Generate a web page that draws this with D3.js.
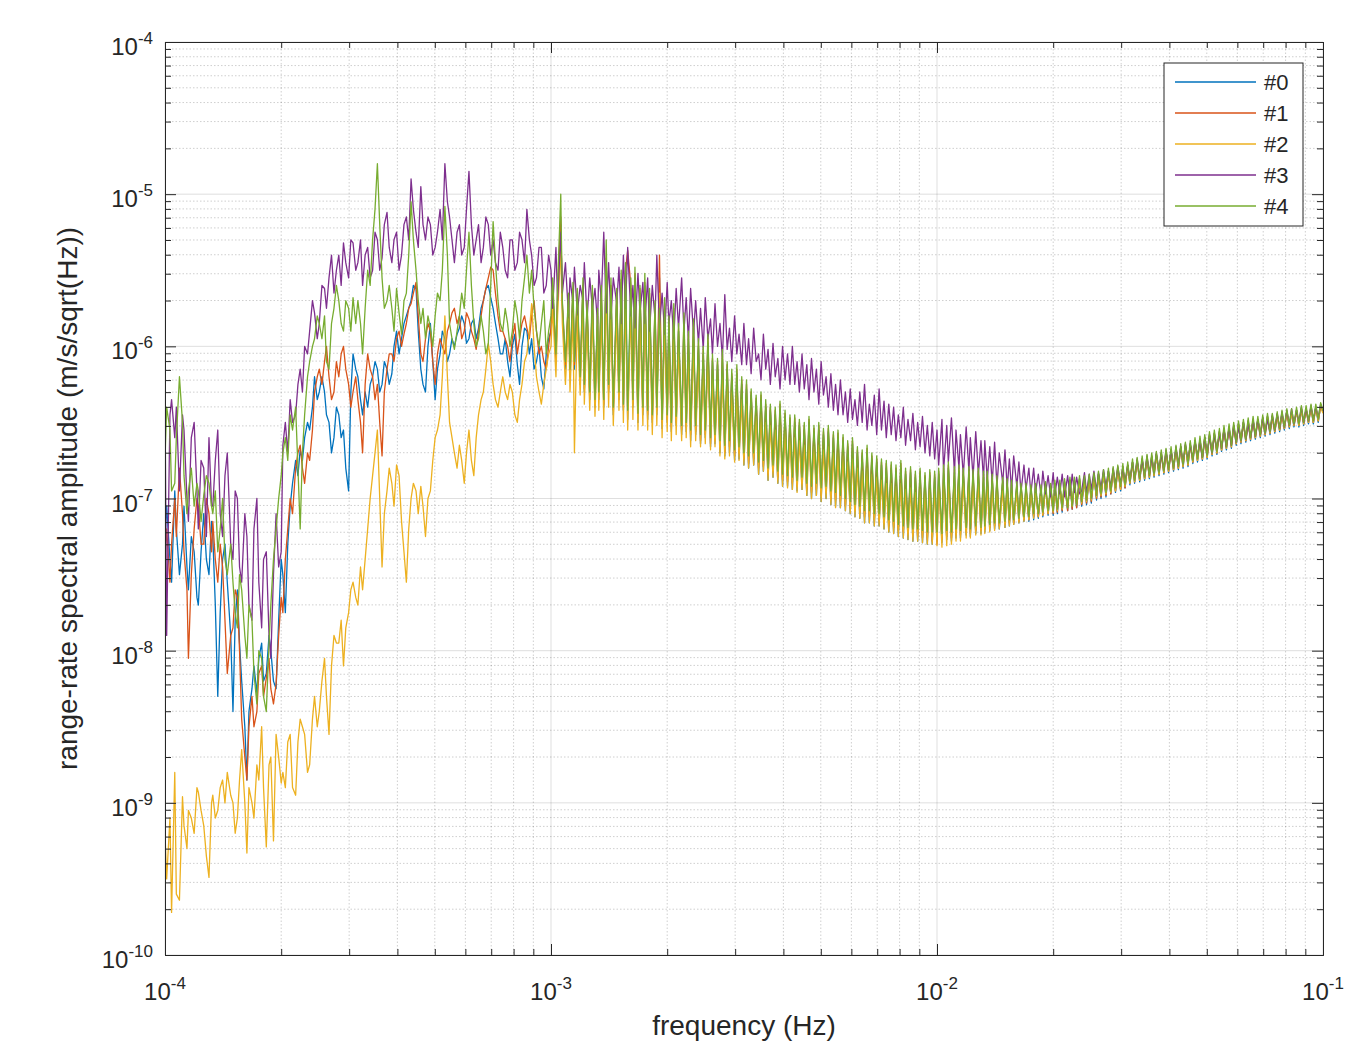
<!DOCTYPE html>
<html>
<head>
<meta charset="utf-8">
<script src="https://cdn.jsdelivr.net/npm/d3@7"></script>
<style>
  body { margin: 0; background: #fff; }
  text { font-family: "Liberation Sans", Arial, Helvetica, sans-serif; fill: #262626; }
  .tk path, .tk line { stroke: #262626; stroke-width: 1; }
</style>
</head>
<body>
<div id="graph"></div>
<script>
// frequency bins in mHz, shared by every series
var freq_mHz = [
  0.100,0.101,0.103,0.104,0.106,0.107,0.109,0.111,0.112,0.114,0.115,0.117,0.119,0.121,0.122,0.124,0.126,0.128,0.130,0.132,
  0.133,0.135,0.137,0.139,0.141,0.143,0.145,0.148,0.150,0.152,0.154,0.156,0.158,0.161,0.163,0.165,0.168,0.170,0.173,0.175,
  0.178,0.180,0.183,0.186,0.188,0.191,0.194,0.197,0.200,0.202,0.205,0.208,0.211,0.214,0.218,0.221,0.224,0.227,0.230,0.234,
  0.237,0.241,0.244,0.248,0.251,0.255,0.259,0.262,0.266,0.270,0.274,0.278,0.282,0.286,0.290,0.294,0.299,0.303,0.307,0.312,
  0.316,0.321,0.325,0.330,0.335,0.340,0.345,0.350,0.355,0.360,0.365,0.370,0.376,0.381,0.387,0.392,0.398,0.404,0.410,0.416,
  0.422,0.428,0.434,0.440,0.447,0.453,0.460,0.466,0.473,0.480,0.487,0.494,0.501,0.508,0.516,0.523,0.531,0.539,0.546,0.554,
  0.562,0.571,0.579,0.587,0.596,0.604,0.613,0.622,0.631,0.640,0.649,0.659,0.668,0.678,0.688,0.698,0.708,0.718,0.729,0.739,
  0.750,0.761,0.772,0.783,0.794,0.806,0.818,0.829,0.841,0.854,0.866,0.879,0.891,0.904,0.917,0.931,0.944,0.958,0.972,0.986,
  1.00,1.01,1.03,1.04,1.06,1.07,1.09,1.11,1.12,1.14,1.15,1.17,1.19,1.21,1.22,1.24,1.26,1.28,1.30,1.32,
  1.33,1.35,1.37,1.39,1.41,1.43,1.45,1.48,1.50,1.52,1.54,1.56,1.58,1.61,1.63,1.65,1.68,1.70,1.73,1.75,
  1.78,1.80,1.83,1.86,1.88,1.91,1.94,1.97,2.00,2.02,2.05,2.08,2.11,2.14,2.18,2.21,2.24,2.27,2.30,2.34,
  2.37,2.41,2.44,2.48,2.51,2.55,2.59,2.62,2.66,2.70,2.74,2.78,2.82,2.86,2.90,2.94,2.99,3.03,3.07,3.12,
  3.16,3.21,3.25,3.30,3.35,3.40,3.45,3.50,3.55,3.60,3.65,3.70,3.76,3.81,3.87,3.92,3.98,4.04,4.10,4.16,
  4.22,4.28,4.34,4.40,4.47,4.53,4.60,4.66,4.73,4.80,4.87,4.94,5.01,5.08,5.16,5.23,5.31,5.39,5.46,5.54,
  5.62,5.71,5.79,5.87,5.96,6.04,6.13,6.22,6.31,6.40,6.49,6.59,6.68,6.78,6.88,6.98,7.08,7.18,7.29,7.39,
  7.50,7.61,7.72,7.83,7.94,8.06,8.18,8.29,8.41,8.54,8.66,8.79,8.91,9.04,9.17,9.31,9.44,9.58,9.72,9.86,
  10.0,10.1,10.3,10.4,10.6,10.7,10.9,11.1,11.2,11.4,11.5,11.7,11.9,12.1,12.2,12.4,12.6,12.8,13.0,13.2,
  13.3,13.5,13.7,13.9,14.1,14.3,14.5,14.8,15.0,15.2,15.4,15.6,15.8,16.1,16.3,16.5,16.8,17.0,17.3,17.5,
  17.8,18.0,18.3,18.6,18.8,19.1,19.4,19.7,20.0,20.2,20.5,20.8,21.1,21.4,21.8,22.1,22.4,22.7,23.0,23.4,
  23.7,24.1,24.4,24.8,25.1,25.5,25.9,26.2,26.6,27.0,27.4,27.8,28.2,28.6,29.0,29.4,29.9,30.3,30.7,31.2,
  31.6,32.1,32.5,33.0,33.5,34.0,34.5,35.0,35.5,36.0,36.5,37.0,37.6,38.1,38.7,39.2,39.8,40.4,41.0,41.6,
  42.2,42.8,43.4,44.0,44.7,45.3,46.0,46.6,47.3,48.0,48.7,49.4,50.1,50.8,51.6,52.3,53.1,53.9,54.6,55.4,
  56.2,57.1,57.9,58.7,59.6,60.4,61.3,62.2,63.1,64.0,64.9,65.9,66.8,67.8,68.8,69.8,70.8,71.8,72.9,73.9,
  75.0,76.1,77.2,78.3,79.4,80.6,81.8,82.9,84.1,85.4,86.6,87.9,89.1,90.4,91.7,93.1,94.4,95.8,97.2,98.6,
  100
];

// amplitudes as log10(m/s/sqrt(Hz))
var amp0 = [
  -7.25,-7.05,-7.40,-7.55,-6.95,-7.20,-7.50,-7.30,-7.05,-7.45,-7.60,-7.25,-7.35,-7.65,-7.70,-7.35,-7.10,-7.40,-7.50,-7.15,
  -7.25,-7.70,-8.30,-7.75,-7.40,-7.30,-7.55,-7.90,-8.40,-7.80,-7.60,-7.95,-8.20,-8.50,-8.85,-8.40,-8.25,-8.10,-8.28,-8.05,
  -7.95,-8.20,-8.15,-7.90,-8.00,-8.20,-8.25,-7.80,-7.40,-7.50,-7.75,-7.30,-7.05,-6.90,-6.75,-6.85,-6.68,-6.75,-6.60,-6.50,
  -6.55,-6.40,-6.20,-6.35,-6.30,-6.20,-6.30,-6.45,-6.50,-6.70,-6.60,-6.40,-6.45,-6.60,-6.55,-6.80,-6.95,-6.30,-6.05,-6.15,
  -6.20,-6.35,-6.45,-6.30,-6.40,-6.25,-6.20,-6.10,-6.15,-6.30,-6.25,-6.10,-6.15,-6.25,-6.18,-6.00,-5.90,-6.05,-5.95,-5.85,
  -5.80,-5.75,-5.70,-5.60,-5.62,-5.90,-6.15,-6.25,-6.30,-6.00,-5.85,-6.10,-6.35,-6.15,-6.05,-5.90,-5.95,-6.10,-6.05,-5.95,
  -6.00,-5.92,-5.88,-5.80,-5.85,-5.98,-5.95,-5.85,-5.82,-5.95,-5.88,-5.75,-5.70,-5.62,-5.60,-5.68,-5.75,-5.85,-5.95,-6.05,
  -6.05,-5.95,-6.10,-6.20,-6.00,-5.92,-6.12,-6.25,-6.00,-5.88,-5.90,-6.05,-5.95,-6.15,-6.10,-6.00,-6.20,-6.28,-6.05,-5.95,
  -5.90,-5.60,-6.10,-5.68,-5.20,-5.75,-6.15,-5.70,-6.20,-5.65,-6.15,-5.70,-6.25,-5.62,-6.30,-5.75,-6.35,-5.68,-6.40,-5.80,
  -6.35,-5.65,-6.40,-5.45,-6.30,-5.62,-6.45,-5.68,-6.35,-5.58,-6.42,-5.55,-6.48,-5.62,-6.40,-5.55,-6.50,-5.65,-6.45,-5.60,
  -6.48,-5.68,-6.50,-5.75,-6.45,-5.55,-6.54,-5.75,-6.50,-5.85,-6.56,-5.78,-6.52,-5.90,-6.58,-5.84,-6.56,-5.95,-6.62,-5.88,
  -6.58,-6.00,-6.64,-6.05,-6.60,-5.98,-6.66,-6.10,-6.64,-6.12,-6.70,-6.08,-6.72,-6.15,-6.70,-6.20,-6.75,-6.18,-6.74,-6.25,
  -6.78,-6.28,-6.80,-6.32,-6.78,-6.36,-6.84,-6.35,-6.82,-6.40,-6.88,-6.42,-6.86,-6.45,-6.90,-6.42,-6.92,-6.46,-6.92,-6.50,
  -6.94,-6.50,-6.95,-6.52,-6.94,-6.55,-6.98,-6.50,-7.00,-6.56,-6.98,-6.55,-7.02,-6.58,-7.00,-6.56,-7.04,-6.60,-7.05,-6.60,
  -7.06,-6.62,-7.08,-6.66,-7.10,-6.64,-7.12,-6.70,-7.13,-6.72,-7.16,-6.70,-7.16,-6.74,-7.18,-6.76,-7.18,-6.78,-7.20,-6.80,
  -7.22,-6.80,-7.23,-6.82,-7.25,-6.80,-7.26,-6.84,-7.27,-6.83,-7.28,-6.86,-7.28,-6.84,-7.29,-6.86,-7.30,-6.85,-7.30,-6.86,
  -7.28,-6.84,-7.29,-6.82,-7.27,-6.80,-7.28,-6.83,-7.26,-6.82,-7.26,-6.84,-7.24,-6.83,-7.25,-6.85,-7.23,-6.84,-7.23,-6.86,
  -7.22,-6.86,-7.21,-6.87,-7.20,-6.88,-7.20,-6.89,-7.19,-6.90,-7.18,-6.91,-7.17,-6.92,-7.16,-6.92,-7.15,-6.93,-7.15,-6.93,
  -7.14,-6.92,-7.13,-6.93,-7.12,-6.91,-7.11,-6.92,-7.11,-6.90,-7.10,-6.90,-7.09,-6.89,-7.08,-6.88,-7.07,-6.88,-7.06,-6.87,
  -7.05,-6.87,-7.04,-6.86,-7.03,-6.85,-7.01,-6.84,-7.00,-6.83,-6.99,-6.82,-6.97,-6.81,-6.96,-6.80,-6.95,-6.79,-6.93,-6.78,
  -6.91,-6.76,-6.90,-6.75,-6.89,-6.74,-6.88,-6.73,-6.87,-6.72,-6.86,-6.71,-6.85,-6.70,-6.84,-6.69,-6.83,-6.68,-6.82,-6.67,
  -6.81,-6.66,-6.80,-6.65,-6.79,-6.64,-6.77,-6.62,-6.76,-6.61,-6.75,-6.60,-6.74,-6.58,-6.72,-6.57,-6.71,-6.56,-6.69,-6.54,
  -6.68,-6.53,-6.67,-6.52,-6.65,-6.51,-6.64,-6.50,-6.63,-6.49,-6.62,-6.48,-6.61,-6.48,-6.60,-6.47,-6.59,-6.46,-6.58,-6.46,
  -6.57,-6.45,-6.56,-6.44,-6.55,-6.43,-6.54,-6.43,-6.53,-6.42,-6.53,-6.41,-6.52,-6.41,-6.51,-6.40,-6.51,-6.40,-6.50,-6.39,
  -6.43
];
var amp1 = [
  -7.40,-7.20,-7.55,-7.30,-7.00,-7.25,-6.80,-7.10,-7.35,-7.60,-8.05,-7.50,-7.20,-7.00,-7.05,-7.30,-7.30,-7.00,-7.10,-7.35,
  -7.15,-7.40,-7.55,-7.30,-7.45,-7.80,-8.15,-7.90,-7.85,-7.60,-7.65,-8.00,-8.45,-8.70,-8.85,-8.50,-8.30,-8.50,-8.40,-8.15,
  -8.10,-8.30,-8.18,-8.05,-8.25,-8.35,-8.22,-7.90,-7.65,-7.75,-7.40,-7.20,-7.00,-7.10,-6.80,-6.70,-6.65,-6.80,-6.90,-6.70,
  -6.75,-6.55,-6.30,-6.20,-6.15,-6.25,-6.10,-6.00,-6.20,-6.35,-6.30,-6.10,-6.20,-6.05,-6.00,-6.15,-6.25,-6.40,-6.30,-6.20,
  -6.35,-6.50,-6.70,-6.25,-6.05,-6.15,-6.20,-6.35,-6.25,-6.50,-6.72,-6.30,-6.15,-6.05,-6.05,-6.10,-5.95,-5.90,-6.00,-5.92,
  -5.85,-5.75,-5.72,-5.65,-5.58,-5.80,-6.05,-6.10,-5.95,-5.85,-5.90,-6.10,-6.25,-6.05,-5.95,-6.00,-6.05,-5.90,-5.85,-5.78,
  -5.75,-5.85,-5.80,-5.95,-5.90,-5.78,-5.82,-5.90,-5.95,-6.02,-5.90,-5.80,-5.70,-5.62,-5.55,-5.48,-5.50,-5.65,-5.80,-5.90,
  -5.90,-5.95,-6.00,-6.10,-5.95,-5.85,-6.05,-5.95,-5.85,-5.80,-5.88,-5.95,-5.80,-5.70,-5.90,-6.05,-6.00,-6.10,-6.15,-6.00,
  -5.88,-5.62,-6.08,-5.66,-5.15,-5.72,-6.12,-5.68,-6.18,-5.62,-6.12,-5.66,-6.22,-5.60,-6.28,-5.72,-6.32,-5.65,-6.38,-5.78,
  -6.32,-5.62,-6.38,-5.42,-6.28,-5.60,-6.42,-5.65,-6.32,-5.56,-6.40,-5.50,-5.37,-5.60,-6.38,-5.52,-6.46,-5.62,-6.42,-5.58,
  -6.45,-5.65,-6.48,-5.72,-6.42,-5.40,-6.50,-5.72,-6.48,-5.82,-6.53,-5.75,-6.50,-5.88,-6.55,-5.80,-6.53,-5.92,-6.58,-5.85,
  -6.56,-5.98,-6.62,-6.02,-6.58,-5.95,-6.64,-6.08,-6.62,-6.10,-6.66,-6.05,-6.70,-6.12,-6.66,-6.18,-6.72,-6.15,-6.70,-6.22,
  -6.74,-6.25,-6.77,-6.30,-6.74,-6.34,-6.80,-6.32,-6.79,-6.38,-6.84,-6.40,-6.82,-6.42,-6.86,-6.38,-6.88,-6.44,-6.89,-6.47,
  -6.90,-6.47,-6.92,-6.50,-6.90,-6.52,-6.94,-6.48,-6.96,-6.54,-6.94,-6.52,-6.98,-6.56,-6.96,-6.54,-7.00,-6.58,-7.01,-6.57,
  -7.02,-6.60,-7.05,-6.64,-7.06,-6.62,-7.08,-6.68,-7.09,-6.70,-7.12,-6.67,-7.12,-6.72,-7.14,-6.74,-7.14,-6.76,-7.16,-6.77,
  -7.18,-6.78,-7.19,-6.80,-7.21,-6.77,-7.22,-6.82,-7.23,-6.81,-7.24,-6.84,-7.25,-6.82,-7.26,-6.85,-7.27,-6.83,-7.28,-6.84,
  -7.30,-6.82,-7.27,-6.80,-7.25,-6.78,-7.26,-6.81,-7.24,-6.80,-7.24,-6.82,-7.22,-6.81,-7.23,-6.83,-7.21,-6.82,-7.21,-6.84,
  -7.20,-6.84,-7.19,-6.86,-7.18,-6.87,-7.18,-6.88,-7.17,-6.89,-7.16,-6.90,-7.16,-6.91,-7.15,-6.91,-7.14,-6.92,-7.14,-6.92,
  -7.12,-6.92,-7.12,-6.93,-7.11,-6.91,-7.10,-6.92,-7.10,-6.90,-7.09,-6.90,-7.08,-6.89,-7.08,-6.88,-7.07,-6.88,-7.06,-6.87,
  -7.04,-6.87,-7.03,-6.86,-7.02,-6.85,-7.00,-6.84,-6.99,-6.83,-6.98,-6.82,-6.97,-6.81,-6.95,-6.80,-6.94,-6.79,-6.93,-6.78,
  -6.90,-6.76,-6.89,-6.75,-6.88,-6.74,-6.87,-6.73,-6.86,-6.72,-6.85,-6.71,-6.84,-6.70,-6.83,-6.69,-6.82,-6.68,-6.81,-6.67,
  -6.80,-6.66,-6.79,-6.65,-6.78,-6.64,-6.76,-6.62,-6.75,-6.61,-6.74,-6.60,-6.73,-6.58,-6.71,-6.57,-6.70,-6.56,-6.68,-6.54,
  -6.67,-6.53,-6.66,-6.52,-6.64,-6.51,-6.63,-6.50,-6.62,-6.49,-6.61,-6.48,-6.60,-6.48,-6.59,-6.47,-6.58,-6.46,-6.57,-6.46,
  -6.56,-6.45,-6.55,-6.44,-6.54,-6.43,-6.53,-6.43,-6.52,-6.42,-6.52,-6.41,-6.51,-6.41,-6.50,-6.40,-6.50,-6.40,-6.49,-6.39,
  -6.42
];
var amp2 = [
  -9.20,-9.50,-9.10,-9.72,-8.80,-9.60,-9.64,-8.96,-9.15,-9.30,-9.05,-9.10,-9.20,-8.90,-8.93,-9.05,-9.15,-9.35,-9.49,-9.00,
  -8.95,-9.10,-9.05,-8.90,-8.85,-9.00,-8.80,-8.95,-9.00,-9.20,-9.10,-8.85,-8.65,-9.00,-9.33,-8.90,-9.00,-9.10,-8.75,-8.85,
  -8.50,-8.90,-9.29,-8.75,-8.70,-9.25,-8.55,-8.70,-8.87,-8.80,-8.90,-8.60,-8.55,-8.90,-8.95,-8.60,-8.45,-8.50,-8.55,-8.80,
  -8.75,-8.45,-8.30,-8.50,-8.40,-8.20,-8.05,-8.30,-8.55,-8.10,-7.90,-7.95,-7.95,-7.80,-8.10,-7.85,-7.75,-7.60,-7.55,-7.65,
  -7.70,-7.45,-7.60,-7.40,-7.20,-7.00,-6.85,-6.70,-6.55,-7.00,-7.45,-7.10,-6.95,-6.80,-6.90,-7.05,-6.78,-6.85,-7.15,-7.35,
  -7.55,-7.20,-7.00,-6.90,-6.95,-7.10,-6.92,-7.05,-7.25,-7.00,-6.95,-6.75,-6.60,-6.55,-6.45,-6.20,-5.80,-6.20,-6.50,-6.60,
  -6.70,-6.80,-6.65,-6.75,-6.90,-6.70,-6.55,-6.75,-6.85,-6.60,-6.45,-6.35,-6.30,-6.15,-5.98,-6.10,-6.25,-6.35,-6.40,-6.30,
  -6.20,-6.30,-6.35,-6.25,-6.30,-6.45,-6.50,-6.35,-6.25,-6.10,-6.05,-5.90,-5.72,-6.00,-6.20,-6.30,-6.38,-6.25,-6.15,-6.05,
  -6.00,-5.75,-6.20,-5.80,-5.35,-5.85,-6.25,-5.82,-6.30,-5.78,-6.70,-5.80,-6.32,-5.72,-6.38,-5.85,-6.42,-5.78,-6.46,-5.90,
  -6.42,-5.78,-6.48,-5.58,-6.40,-5.75,-6.52,-5.80,-6.42,-5.70,-6.50,-5.68,-6.55,-5.75,-6.48,-5.66,-6.55,-5.78,-6.52,-5.72,
  -6.55,-5.78,-6.58,-5.85,-6.52,-5.65,-6.60,-5.85,-6.56,-5.95,-6.62,-5.88,-6.58,-6.00,-6.62,-5.95,-6.60,-6.05,-6.66,-5.98,
  -6.62,-6.10,-6.66,-6.15,-6.64,-6.08,-6.68,-6.20,-6.66,-6.22,-6.72,-6.18,-6.74,-6.25,-6.72,-6.30,-6.76,-6.28,-6.75,-6.35,
  -6.78,-6.38,-6.80,-6.42,-6.78,-6.46,-6.84,-6.45,-6.82,-6.50,-6.88,-6.52,-6.86,-6.55,-6.90,-6.52,-6.92,-6.56,-6.93,-6.60,
  -6.94,-6.60,-6.96,-6.62,-6.94,-6.65,-6.98,-6.60,-7.00,-6.66,-6.98,-6.65,-7.02,-6.68,-7.00,-6.66,-7.04,-6.70,-7.06,-6.70,
  -7.06,-6.72,-7.08,-6.76,-7.10,-6.74,-7.12,-6.80,-7.13,-6.82,-7.16,-6.80,-7.16,-6.84,-7.18,-6.86,-7.18,-6.88,-7.20,-6.90,
  -7.22,-6.90,-7.23,-6.92,-7.25,-6.90,-7.26,-6.94,-7.27,-6.93,-7.28,-6.96,-7.28,-6.94,-7.29,-6.95,-7.30,-6.94,-7.30,-6.93,
  -7.31,-6.90,-7.32,-6.88,-7.31,-6.86,-7.30,-6.89,-7.28,-6.88,-7.28,-6.90,-7.26,-6.89,-7.26,-6.91,-7.24,-6.90,-7.24,-6.92,
  -7.23,-6.92,-7.22,-6.93,-7.21,-6.94,-7.20,-6.95,-7.19,-6.95,-7.18,-6.96,-7.17,-6.96,-7.16,-6.96,-7.15,-6.96,-7.14,-6.95,
  -7.13,-6.94,-7.12,-6.94,-7.11,-6.93,-7.10,-6.93,-7.09,-6.92,-7.08,-6.91,-7.07,-6.90,-7.06,-6.89,-7.05,-6.89,-7.04,-6.88,
  -7.03,-6.88,-7.02,-6.87,-7.01,-6.86,-6.99,-6.85,-6.98,-6.84,-6.97,-6.83,-6.96,-6.82,-6.95,-6.81,-6.94,-6.80,-6.92,-6.79,
  -6.90,-6.77,-6.89,-6.76,-6.88,-6.75,-6.87,-6.74,-6.86,-6.73,-6.85,-6.72,-6.84,-6.71,-6.83,-6.70,-6.82,-6.69,-6.81,-6.68,
  -6.80,-6.67,-6.79,-6.66,-6.78,-6.65,-6.76,-6.63,-6.75,-6.62,-6.74,-6.61,-6.73,-6.59,-6.71,-6.58,-6.70,-6.57,-6.68,-6.55,
  -6.67,-6.54,-6.66,-6.53,-6.64,-6.52,-6.63,-6.51,-6.62,-6.50,-6.61,-6.49,-6.60,-6.49,-6.59,-6.48,-6.58,-6.47,-6.57,-6.47,
  -6.56,-6.46,-6.55,-6.45,-6.54,-6.44,-6.53,-6.44,-6.52,-6.43,-6.52,-6.42,-6.51,-6.42,-6.50,-6.41,-6.50,-6.41,-6.49,-6.40,
  -6.44
];
var amp3 = [
  -6.30,-7.90,-6.45,-6.35,-6.60,-6.40,-6.95,-6.45,-6.55,-7.00,-7.15,-6.60,-6.50,-6.95,-7.20,-6.75,-6.80,-7.25,-6.60,-7.05,
  -7.05,-6.75,-6.55,-7.10,-7.25,-6.85,-6.70,-7.30,-7.40,-6.95,-7.00,-7.45,-7.55,-7.10,-7.25,-7.70,-7.80,-7.20,-7.00,-7.55,
  -7.85,-7.40,-7.35,-7.90,-8.05,-7.50,-7.10,-7.45,-7.35,-6.65,-6.50,-6.70,-6.35,-6.50,-6.45,-6.25,-6.15,-6.30,-6.00,-6.05,
  -5.90,-5.70,-5.78,-5.95,-5.85,-5.60,-5.62,-5.75,-5.55,-5.40,-5.65,-5.50,-5.40,-5.60,-5.32,-5.45,-5.55,-5.30,-5.32,-5.50,
  -5.45,-5.30,-5.60,-5.40,-5.35,-5.55,-5.50,-5.25,-5.30,-5.50,-5.42,-5.20,-5.12,-5.35,-5.45,-5.30,-5.25,-5.50,-5.40,-5.20,
  -5.15,-5.30,-4.90,-5.10,-5.25,-5.35,-4.95,-5.20,-5.30,-5.15,-5.20,-5.40,-5.35,-5.25,-5.10,-5.30,-4.80,-5.05,-5.15,-5.30,
  -5.45,-5.25,-5.20,-5.40,-5.35,-5.10,-4.85,-5.20,-5.40,-5.30,-5.20,-5.45,-5.35,-5.15,-5.20,-5.40,-5.30,-5.45,-5.50,-5.25,
  -5.35,-5.50,-5.55,-5.30,-5.30,-5.50,-5.45,-5.25,-5.30,-5.45,-5.10,-5.30,-5.40,-5.60,-5.55,-5.35,-5.35,-5.65,-5.60,-5.40,
  -5.50,-5.75,-5.35,-5.70,-5.25,-5.65,-5.45,-5.80,-5.55,-5.72,-5.48,-5.78,-5.60,-5.70,-5.45,-5.82,-5.55,-5.75,-5.62,-5.85,
  -5.50,-5.70,-5.25,-5.78,-5.45,-5.82,-5.55,-5.72,-5.48,-5.85,-5.40,-5.75,-5.35,-5.80,-5.60,-5.88,-5.52,-5.78,-5.58,-5.85,
  -5.55,-5.90,-5.60,-5.82,-5.40,-5.88,-5.65,-5.92,-5.58,-5.85,-5.70,-5.95,-5.62,-5.88,-5.55,-5.90,-5.68,-5.96,-5.62,-5.92,
  -5.70,-5.98,-5.75,-6.02,-5.68,-5.95,-5.82,-6.05,-5.72,-6.00,-5.85,-6.08,-5.66,-6.02,-5.88,-6.10,-5.80,-6.05,-5.92,-6.12,
  -5.85,-6.12,-5.95,-6.18,-5.88,-6.10,-6.05,-6.22,-5.92,-6.15,-6.02,-6.25,-5.98,-6.20,-6.08,-6.28,-6.00,-6.22,-6.05,-6.25,
  -6.00,-6.25,-6.10,-6.30,-6.05,-6.28,-6.12,-6.35,-6.08,-6.30,-6.15,-6.38,-6.10,-6.32,-6.20,-6.40,-6.18,-6.42,-6.25,-6.45,
  -6.22,-6.45,-6.30,-6.50,-6.28,-6.48,-6.35,-6.52,-6.30,-6.50,-6.25,-6.55,-6.38,-6.52,-6.32,-6.58,-6.28,-6.55,-6.36,-6.60,
  -6.38,-6.58,-6.40,-6.62,-6.45,-6.60,-6.40,-6.65,-6.48,-6.62,-6.44,-6.68,-6.50,-6.66,-6.46,-6.70,-6.52,-6.72,-6.50,-6.74,
  -6.55,-6.78,-6.48,-6.82,-6.52,-6.76,-6.47,-6.84,-6.55,-6.80,-6.58,-6.85,-6.53,-6.82,-6.60,-6.86,-6.56,-6.84,-6.62,-6.88,
  -6.62,-6.88,-6.66,-6.90,-6.63,-6.92,-6.70,-6.90,-6.68,-6.93,-6.74,-6.95,-6.72,-6.92,-6.76,-6.96,-6.78,-6.94,-6.80,-6.97,
  -6.80,-6.96,-6.84,-6.98,-6.82,-6.97,-6.85,-6.99,-6.83,-6.98,-6.86,-6.97,-6.84,-6.99,-6.85,-6.98,-6.84,-6.96,-6.86,-6.97,
  -6.95,-6.83,-6.96,-6.84,-6.94,-6.82,-6.95,-6.83,-6.93,-6.81,-6.92,-6.82,-6.93,-6.80,-6.91,-6.79,-6.90,-6.80,-6.89,-6.78,
  -6.88,-6.76,-6.87,-6.74,-6.86,-6.75,-6.85,-6.72,-6.84,-6.73,-6.83,-6.70,-6.82,-6.71,-6.81,-6.68,-6.80,-6.69,-6.79,-6.66,
  -6.78,-6.66,-6.77,-6.64,-6.75,-6.65,-6.74,-6.62,-6.72,-6.63,-6.73,-6.60,-6.71,-6.59,-6.70,-6.58,-6.68,-6.57,-6.67,-6.55,
  -6.66,-6.54,-6.65,-6.52,-6.63,-6.53,-6.62,-6.50,-6.61,-6.51,-6.60,-6.49,-6.59,-6.48,-6.58,-6.47,-6.57,-6.48,-6.56,-6.45,
  -6.55,-6.44,-6.54,-6.43,-6.53,-6.42,-6.52,-6.41,-6.51,-6.42,-6.50,-6.40,-6.50,-6.41,-6.49,-6.39,-6.48,-6.40,-6.47,-6.38,
  -6.42
];
var amp4 = [
  -6.75,-6.40,-6.55,-6.95,-6.90,-6.60,-6.20,-6.50,-6.85,-7.10,-6.95,-6.80,-7.05,-6.90,-6.95,-7.15,-6.98,-6.85,-6.90,-7.05,
  -7.10,-6.95,-7.35,-7.20,-7.00,-7.40,-7.50,-7.30,-7.55,-7.75,-7.85,-7.50,-7.60,-7.90,-8.05,-7.70,-7.80,-8.15,-8.35,-8.00,
  -8.05,-8.30,-8.40,-7.95,-7.70,-7.40,-7.20,-7.00,-6.85,-6.70,-6.60,-6.75,-6.45,-6.55,-6.40,-6.80,-7.20,-6.70,-6.45,-6.20,
  -6.10,-6.00,-5.95,-5.80,-5.85,-5.95,-5.80,-6.10,-6.15,-5.85,-5.75,-5.60,-5.70,-5.85,-5.90,-5.70,-5.75,-5.90,-5.68,-5.85,
  -5.70,-5.85,-6.05,-5.75,-5.50,-5.60,-5.30,-5.10,-4.80,-5.20,-5.55,-5.75,-5.70,-5.60,-5.75,-5.90,-5.62,-5.78,-5.92,-5.70,
  -5.65,-5.40,-5.05,-5.30,-5.50,-5.70,-5.85,-5.75,-5.95,-5.80,-5.88,-6.00,-5.80,-5.65,-5.70,-5.50,-5.08,-5.40,-5.85,-5.95,
  -6.02,-5.90,-5.80,-5.65,-5.75,-5.50,-5.25,-5.60,-5.85,-6.00,-5.95,-5.80,-5.90,-6.05,-5.98,-5.60,-5.18,-5.45,-5.70,-5.85,
  -5.90,-5.75,-5.85,-6.00,-5.90,-5.70,-5.80,-5.95,-5.70,-5.55,-5.40,-5.65,-5.50,-5.75,-5.90,-6.00,-5.85,-5.70,-6.05,-5.90,
  -5.80,-5.55,-6.05,-5.60,-5.00,-5.70,-6.10,-5.65,-6.15,-5.58,-6.10,-5.62,-6.20,-5.55,-6.25,-5.70,-6.30,-5.60,-6.35,-5.75,
  -6.30,-5.60,-6.35,-5.30,-6.25,-5.55,-6.40,-5.62,-6.30,-5.50,-6.38,-5.45,-6.42,-5.55,-6.35,-5.48,-6.44,-5.60,-6.40,-5.52,
  -6.42,-5.62,-6.45,-5.70,-6.40,-5.75,-6.48,-5.68,-6.45,-5.80,-6.50,-5.72,-6.46,-5.85,-6.52,-5.78,-6.50,-5.90,-6.55,-5.82,
  -6.52,-5.95,-6.58,-6.00,-6.55,-5.92,-6.60,-6.05,-6.58,-6.08,-6.62,-6.02,-6.65,-6.10,-6.62,-6.15,-6.68,-6.12,-6.66,-6.20,
  -6.70,-6.22,-6.72,-6.28,-6.70,-6.32,-6.76,-6.30,-6.75,-6.35,-6.80,-6.38,-6.78,-6.40,-6.82,-6.36,-6.84,-6.42,-6.85,-6.45,
  -6.86,-6.45,-6.88,-6.48,-6.86,-6.50,-6.90,-6.46,-6.92,-6.52,-6.90,-6.50,-6.93,-6.54,-6.92,-6.52,-6.95,-6.56,-6.96,-6.55,
  -6.98,-6.58,-7.00,-6.62,-7.02,-6.60,-7.04,-6.66,-7.05,-6.68,-7.08,-6.65,-7.08,-6.70,-7.10,-6.72,-7.10,-6.74,-7.12,-6.75,
  -7.14,-6.76,-7.15,-6.78,-7.17,-6.75,-7.18,-6.80,-7.19,-6.79,-7.20,-6.82,-7.20,-6.80,-7.21,-6.83,-7.22,-6.81,-7.22,-6.82,
  -7.22,-6.80,-7.23,-6.78,-7.21,-6.76,-7.22,-6.79,-7.20,-6.78,-7.21,-6.80,-7.19,-6.79,-7.20,-6.81,-7.18,-6.80,-7.19,-6.82,
  -7.18,-6.82,-7.17,-6.84,-7.16,-6.85,-7.16,-6.86,-7.15,-6.87,-7.14,-6.88,-7.14,-6.89,-7.13,-6.90,-7.12,-6.90,-7.12,-6.91,
  -7.10,-6.90,-7.10,-6.91,-7.09,-6.89,-7.08,-6.90,-7.08,-6.88,-7.07,-6.88,-7.06,-6.87,-7.06,-6.86,-7.05,-6.86,-7.04,-6.85,
  -7.02,-6.85,-7.01,-6.84,-7.00,-6.83,-6.98,-6.82,-6.97,-6.81,-6.96,-6.80,-6.95,-6.79,-6.93,-6.78,-6.92,-6.77,-6.91,-6.76,
  -6.89,-6.74,-6.88,-6.73,-6.87,-6.72,-6.86,-6.71,-6.85,-6.70,-6.84,-6.69,-6.83,-6.68,-6.82,-6.67,-6.81,-6.66,-6.80,-6.65,
  -6.79,-6.64,-6.78,-6.63,-6.77,-6.62,-6.75,-6.60,-6.74,-6.59,-6.73,-6.58,-6.72,-6.56,-6.70,-6.55,-6.69,-6.54,-6.67,-6.52,
  -6.66,-6.51,-6.65,-6.50,-6.63,-6.49,-6.62,-6.48,-6.61,-6.47,-6.60,-6.46,-6.59,-6.46,-6.58,-6.45,-6.57,-6.44,-6.56,-6.44,
  -6.55,-6.43,-6.54,-6.42,-6.53,-6.41,-6.52,-6.41,-6.51,-6.40,-6.51,-6.39,-6.50,-6.39,-6.49,-6.38,-6.49,-6.38,-6.48,-6.37,
  -6.42
];

var seriesNames = ["#0", "#1", "#2", "#3", "#4"];
var xMajor = [1e-4, 1e-3, 1e-2, 1e-1];
var xMajorExp = ["-4", "-3", "-2", "-1"];
var yMajor = [1e-10, 1e-9, 1e-8, 1e-7, 1e-6, 1e-5, 1e-4];
var yMajorExp = ["-10", "-9", "-8", "-7", "-6", "-5", "-4"];

var colors = ["#0072BD", "#D95319", "#EDB120", "#7E2F8E", "#77AC30"];
var allAmps = [amp0, amp1, amp2, amp3, amp4];

var margin = {top: 42, right: 44, bottom: 94, left: 165};
var width = 1367 - margin.left - margin.right;
var height = 1049 - margin.top - margin.bottom;

var svg = d3.select("#graph")
  .append("svg")
    .attr("width", width + margin.left + margin.right)
    .attr("height", height + margin.top + margin.bottom)
  .append("g")
    .attr("transform", "translate(" + margin.left + "," + margin.top + ")");

var x = d3.scaleLog().domain([1e-4, 1e-1]).range([0, width]);
var y = d3.scaleLog().domain([1e-10, 1e-4]).range([height, 0]);

function isMajor(v) {
  var l = Math.log10(v);
  return Math.abs(l - Math.round(l)) < 1e-6;
}
var xMinor = x.ticks().filter(function(v) { return !isMajor(v); });
var yMinor = y.ticks().filter(function(v) { return !isMajor(v); });

// grid: minor dotted, major solid
var grid = svg.append("g");
grid.selectAll(".gxm").data(xMinor).enter().append("line")
  .attr("x1", function(d) { return x(d); }).attr("x2", function(d) { return x(d); })
  .attr("y1", 0).attr("y2", height)
  .attr("stroke", "#262626").attr("stroke-opacity", 0.22).attr("stroke-dasharray", "1.5,2");
grid.selectAll(".gym").data(yMinor).enter().append("line")
  .attr("y1", function(d) { return y(d); }).attr("y2", function(d) { return y(d); })
  .attr("x1", 0).attr("x2", width)
  .attr("stroke", "#262626").attr("stroke-opacity", 0.22).attr("stroke-dasharray", "1.5,2");
grid.selectAll(".gx").data(xMajor).enter().append("line")
  .attr("x1", function(d) { return x(d); }).attr("x2", function(d) { return x(d); })
  .attr("y1", 0).attr("y2", height)
  .attr("stroke", "#262626").attr("stroke-opacity", 0.15);
grid.selectAll(".gy").data(yMajor).enter().append("line")
  .attr("y1", function(d) { return y(d); }).attr("y2", function(d) { return y(d); })
  .attr("x1", 0).attr("x2", width)
  .attr("stroke", "#262626").attr("stroke-opacity", 0.15);

// spectra
svg.append("clipPath").attr("id", "clip")
  .append("rect").attr("width", width).attr("height", height);

var line = d3.line()
  .defined(function(d, i) { return i < freq_mHz.length; })
  .x(function(d, i) { return x(freq_mHz[i] / 1000); })
  .y(function(d) { return y(Math.pow(10, d)); });

allAmps.forEach(function(a, k) {
  svg.append("path")
    .datum(a)
    .attr("clip-path", "url(#clip)")
    .attr("fill", "none")
    .attr("stroke", colors[k])
    .attr("stroke-width", 1.3)
    .attr("stroke-linejoin", "round")
    .attr("d", line);
});

// box with inward ticks on all four sides
function addAxis(axis, tr, vals, len) {
  svg.append("g").attr("class", "tk").attr("transform", tr)
    .call(axis.tickValues(vals).tickSizeInner(-len).tickSizeOuter(0).tickFormat(""));
}
addAxis(d3.axisBottom(x), "translate(0," + height + ")", xMajor, 11);
addAxis(d3.axisBottom(x), "translate(0," + height + ")", xMinor, 6);
addAxis(d3.axisTop(x), "translate(0,0)", xMajor, 11);
addAxis(d3.axisTop(x), "translate(0,0)", xMinor, 6);
addAxis(d3.axisLeft(y), "translate(0,0)", yMajor, 11);
addAxis(d3.axisLeft(y), "translate(0,0)", yMinor, 6);
addAxis(d3.axisRight(y), "translate(" + width + ",0)", yMajor, 11);
addAxis(d3.axisRight(y), "translate(" + width + ",0)", yMinor, 6);

// tick labels 10^n
svg.selectAll(".xl").data(xMajor).enter().append("text")
  .attr("x", function(d) { return x(d); })
  .attr("y", height + 45)
  .attr("text-anchor", "middle")
  .attr("font-size", 24)
  .each(function(d, i) {
    var t = d3.select(this);
    t.append("tspan").text("10");
    t.append("tspan").attr("dy", -11).attr("font-size", 17).text(xMajorExp[i]);
  });

svg.selectAll(".yl").data(yMajor).enter().append("text")
  .attr("x", -12)
  .attr("y", function(d) { return y(d) + 13; })
  .attr("text-anchor", "end")
  .attr("font-size", 24)
  .each(function(d, i) {
    var t = d3.select(this);
    t.append("tspan").text("10");
    t.append("tspan").attr("dy", -11).attr("font-size", 17).text(yMajorExp[i]);
  });

// axis titles
svg.append("text")
  .attr("x", width / 2)
  .attr("y", height + 80)
  .attr("text-anchor", "middle")
  .attr("font-size", 28)
  .text("frequency (Hz)");

svg.append("text")
  .attr("transform", "translate(-88," + (height / 2) + ") rotate(-90)")
  .attr("text-anchor", "middle")
  .attr("font-size", 28)
  .text("range-rate spectral amplitude (m/s/sqrt(Hz))");

// legend
var lg = svg.append("g").attr("transform", "translate(" + (width - 159) + ",21)");
lg.append("rect")
  .attr("width", 139).attr("height", 163)
  .attr("fill", "#fff").attr("stroke", "#262626").attr("stroke-width", 1);
seriesNames.forEach(function(name, k) {
  var yy = 19 + k * 31;
  lg.append("line")
    .attr("x1", 11).attr("x2", 92).attr("y1", yy).attr("y2", yy)
    .attr("stroke", colors[k]).attr("stroke-width", 1.4);
  lg.append("text")
    .attr("x", 100).attr("y", yy + 8)
    .attr("font-size", 22)
    .attr("fill", "#000")
    .text(name);
});
</script>
</body>
</html>
